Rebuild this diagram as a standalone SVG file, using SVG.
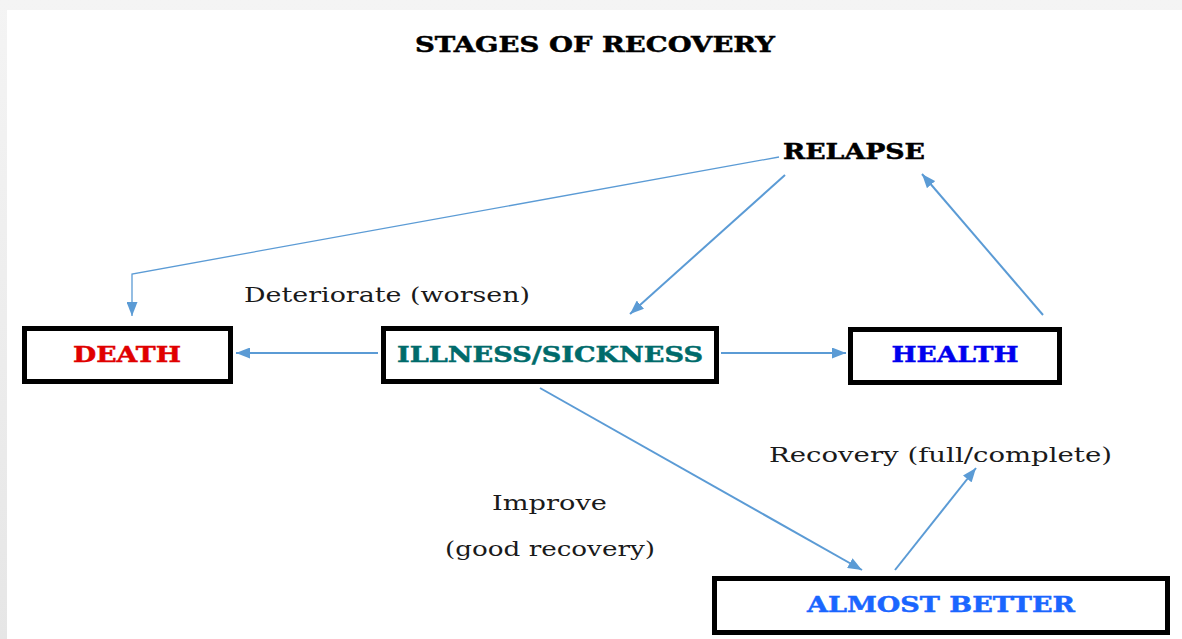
<svg xmlns="http://www.w3.org/2000/svg" width="1182" height="639" viewBox="0 0 1182 639">
<defs>
<linearGradient id="bgTop" x1="0" y1="0" x2="0" y2="1"><stop offset="0" stop-color="#f4f4f4"/><stop offset="1" stop-color="#e6e6e6"/></linearGradient>
<marker id="arr" viewBox="0 0 14 11" refX="14" refY="5.5" markerWidth="14" markerHeight="11" markerUnits="userSpaceOnUse" orient="auto"><path d="M0,0 L14,5.5 L0,11 Z" fill="#5b9bd5"/></marker>
<style>
.box{fill:#fff;stroke:#000;stroke-width:5}
.bt{font-family:"DejaVu Serif","Liberation Serif",serif;font-weight:bold;font-size:22px;text-anchor:middle;stroke-width:0.5}
.lt{font-family:"DejaVu Serif","Liberation Serif",serif;font-size:21px;fill:#1a1a1a}
.c{fill:none;stroke:#5b9bd5;stroke-width:2;marker-end:url(#arr)}
</style>
</defs>
<rect x="0" y="0" width="1182" height="639" fill="url(#bgTop)"/>
<rect x="7" y="10" width="1175" height="629" fill="#fff"/>
<text class="bt" x="595" y="52" fill="#000" stroke="#000" textLength="360" lengthAdjust="spacingAndGlyphs">STAGES OF RECOVERY</text>
<g id="relapse"><text class="bt" x="854" y="159" fill="#000" stroke="#000" textLength="142" lengthAdjust="spacingAndGlyphs">RELAPSE</text></g>
<g id="death"><rect class="box" x="24.5" y="328.5" width="206" height="53"/><text class="bt" x="127" y="362" fill="#e00000" stroke="#e00000" textLength="108" lengthAdjust="spacingAndGlyphs">DEATH</text></g>
<g id="illness"><rect class="box" x="383.5" y="328.5" width="333" height="53"/><text class="bt" x="550" y="362" fill="#006b6b" stroke="#006b6b" textLength="306" lengthAdjust="spacingAndGlyphs">ILLNESS/SICKNESS</text></g>
<g id="health"><rect class="box" x="850.5" y="329.5" width="209" height="53"/><text class="bt" x="955" y="362" fill="#0000ee" stroke="#0000ee" textLength="127" lengthAdjust="spacingAndGlyphs">HEALTH</text></g>
<g id="almost"><rect class="box" x="714.5" y="578.5" width="453" height="54"/><text class="bt" x="941" y="612" fill="#1a66ff" stroke="#1a66ff" textLength="268" lengthAdjust="spacingAndGlyphs">ALMOST BETTER</text></g>
<g id="labels">
<text class="lt" x="244" y="302" textLength="286" lengthAdjust="spacingAndGlyphs">Deteriorate (worsen)</text>
<text class="lt" x="769" y="462" textLength="343" lengthAdjust="spacingAndGlyphs">Recovery (full/complete)</text>
<text class="lt" x="492" y="510" textLength="115" lengthAdjust="spacingAndGlyphs">Improve</text>
<text class="lt" x="445" y="556" textLength="210" lengthAdjust="spacingAndGlyphs">(good recovery)</text>
</g>
<g id="connectors">
<polyline class="c" style="stroke-width:1.3" points="779,157 132,274 132,316"/>
<line class="c" x1="785" y1="175" x2="630" y2="314"/>
<line class="c" x1="1043" y1="315" x2="922" y2="174"/>
<line class="c" x1="378" y1="353" x2="236" y2="353"/>
<line class="c" x1="721" y1="353" x2="846" y2="353"/>
<line class="c" x1="540" y1="388" x2="862" y2="570"/>
<line class="c" x1="895" y1="570" x2="976" y2="468"/>
</g>
</svg>
